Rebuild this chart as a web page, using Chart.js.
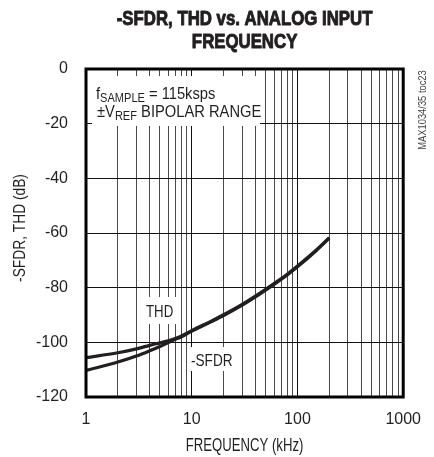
<!DOCTYPE html>
<html>
<head>
<meta charset="utf-8">
<script src="https://cdn.jsdelivr.net/npm/chart.js@4/dist/chart.umd.min.js"></script>
<style>
  html, body { margin: 0; padding: 0; background: #fff; }
  #wrap { width: 434px; height: 457px; }
</style>
</head>
<body>
<div id="wrap"><canvas id="chart" width="434" height="457"></canvas></div>
<script>
// values
const freqKHz = [1, 2, 3, 4, 5, 6, 7, 8, 10, 15, 20, 30, 40, 60, 80, 100, 150, 200];
const thdDb   = [-105.6, -103.8, -102.4, -101.1, -100.2, -99.4, -98.6, -97.7, -95.7, -92.4, -89.9, -86.1, -83.1, -78.5, -75.1, -72.1, -66.3, -61.7];
const sfdrDb  = [-110.3, -107.2, -105.0, -103.1, -101.5, -100.1, -98.9, -98.0, -95.9, -92.6, -90.2, -86.4, -83.4, -78.8, -75.4, -72.4, -66.5, -61.9];

const xGridValues = [1, 2, 3, 4, 5, 6, 7, 8, 9, 10, 20, 30, 40, 50, 60, 70, 80, 90,
                     100, 200, 300, 400, 500, 600, 700, 800, 900, 1000];
const xTickLabels = [1, 10, 100, 1000];
const yTicks = [0, -20, -40, -60, -80, -100, -120];

const FONT = '"Liberation Sans", Arial, sans-serif';
const INK = '#231f20';

const toPoints = (ys) => freqKHz.map((f, i) => ({ x: f, y: ys[i] }));

// draws text squeezed horizontally (narrow Helvetica look), returns drawn width
function narrowText(ctx, text, x, y, font, sx, align, heavy) {
  ctx.save();
  ctx.font = font;
  const w = ctx.measureText(text).width * sx;
  ctx.translate(x, y);
  ctx.scale(sx, 1);
  ctx.textAlign = align || 'left';
  ctx.fillText(text, 0, 0);
  if (heavy) {
    ctx.strokeStyle = ctx.fillStyle;
    ctx.lineWidth = heavy;
    ctx.lineJoin = 'round';
    ctx.strokeText(text, 0, 0);
  }
  ctx.restore();
  return w;
}

const annotations = {
  id: 'annotations',
  beforeDatasetsDraw(chart) {
    const ctx = chart.ctx;
    ctx.save();
    ctx.fillStyle = '#fff';
    ctx.fillRect(92, 76, 168, 50);
    ctx.fillRect(141, 297, 37, 27);
    ctx.fillRect(188, 347, 50, 24);
    ctx.restore();
  },
  afterDraw(chart) {
    const ctx = chart.ctx;
    const a = chart.chartArea;
    const cx = (a.left + a.right) / 2;
    ctx.save();
    ctx.fillStyle = INK;
    ctx.textBaseline = 'alphabetic';

    // title
    narrowText(ctx, '-SFDR, THD vs. ANALOG INPUT', cx, 25, 'bold 21px ' + FONT, 0.8, 'center', 1);
    narrowText(ctx, 'FREQUENCY', cx, 48, 'bold 21px ' + FONT, 0.8, 'center', 1);

    // axis titles
    narrowText(ctx, 'FREQUENCY (kHz)', cx, 451, '18px ' + FONT, 0.73, 'center');
    ctx.save();
    ctx.translate(25, 228);
    ctx.rotate(-Math.PI / 2);
    narrowText(ctx, '-SFDR, THD (dB)', 0, 0, '17px ' + FONT, 0.81, 'center');
    ctx.restore();

    // conditions box
    const sx = 0.92;
    let x = 96;
    x += narrowText(ctx, 'f', x, 99, '16px ' + FONT, sx);
    x += narrowText(ctx, 'SAMPLE', x, 102, '12px ' + FONT, sx);
    narrowText(ctx, ' = 115ksps', x, 99, '16px ' + FONT, sx);

    x = 97;
    x += narrowText(ctx, '\u00b1', x, 117, '16px ' + FONT, sx);
    x += narrowText(ctx, 'V', x, 117, '16px ' + FONT, sx);
    x += narrowText(ctx, 'REF', x, 120, '12px ' + FONT, sx);
    narrowText(ctx, ' BIPOLAR RANGE', x, 117, '16px ' + FONT, sx);

    // curve labels
    narrowText(ctx, 'THD', 146, 317, '17px ' + FONT, 0.78);
    narrowText(ctx, '-SFDR', 191, 366, '17px ' + FONT, 0.8);

    // figure id on the right
    ctx.save();
    ctx.translate(426, 110);
    ctx.rotate(-Math.PI / 2);
    ctx.fillStyle = '#444';
    narrowText(ctx, 'MAX1034/35 toc23', 0, 0, '11px ' + FONT, 0.85, 'center');
    ctx.restore();

    // frame
    ctx.strokeStyle = '#000';
    ctx.lineWidth = 3;
    ctx.strokeRect(a.left, a.top, a.right - a.left, a.bottom - a.top);
    ctx.restore();
  }
};

new Chart(document.getElementById('chart'), {
  type: 'line',
  data: {
    datasets: [
      { label: 'THD', data: toPoints(thdDb), borderColor: INK, borderWidth: 3.2,
        pointRadius: 0, cubicInterpolationMode: 'monotone', fill: false },
      { label: '-SFDR', data: toPoints(sfdrDb), borderColor: INK, borderWidth: 3.2,
        pointRadius: 0, cubicInterpolationMode: 'monotone', fill: false }
    ]
  },
  options: {
    responsive: false,
    animation: false,
    devicePixelRatio: 1,
    layout: { padding: { top: 69, right: 19, left: 0, bottom: 0 } },
    plugins: { legend: { display: false }, title: { display: false }, tooltip: { enabled: false } },
    scales: {
      x: {
        type: 'logarithmic',
        min: 1,
        max: 1000,
        afterFit(scale) { scale.height = 60; },
        afterBuildTicks(scale) { scale.ticks = xGridValues.map(v => ({ value: v })); },
        border: { display: false },
        grid: {
          drawTicks: false,
          lineWidth: 1,
          color: (c) => xTickLabels.includes(c.tick && c.tick.value) ? '#111' : '#4a4a4a'
        },
        ticks: {
          autoSkip: false,
          maxRotation: 0,
          padding: 13,
          color: INK,
          font: { family: FONT, size: 16 },
          callback: (v) => xTickLabels.includes(v) ? String(v) : ''
        }
      },
      y: {
        min: -120,
        max: 0,
        afterFit(scale) { scale.width = 86; },
        afterBuildTicks(scale) { scale.ticks = yTicks.map(v => ({ value: v })); },
        border: { display: false },
        grid: { drawTicks: false, lineWidth: 1, color: '#111' },
        ticks: {
          padding: 18,
          color: INK,
          font: { family: FONT, size: 16 }
        }
      }
    }
  },
  plugins: [annotations]
});
</script>
</body>
</html>
